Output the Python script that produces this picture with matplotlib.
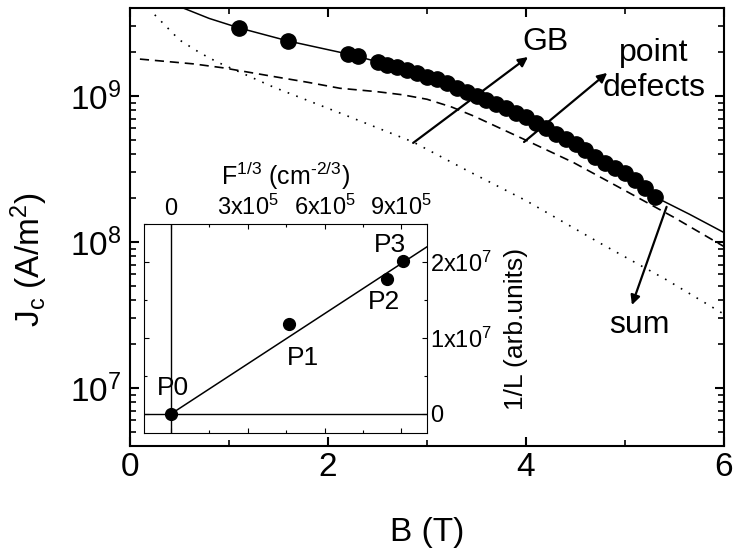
import numpy as np
import matplotlib
matplotlib.use('Agg')
import matplotlib.pyplot as plt
from matplotlib.ticker import LogLocator, MultipleLocator, NullFormatter

plt.rcParams['font.family'] = ['Liberation Sans', 'DejaVu Sans']
plt.rcParams['mathtext.fontset'] = 'custom'
plt.rcParams['mathtext.rm'] = 'Liberation Sans'
plt.rcParams['mathtext.it'] = 'Liberation Sans:italic'
plt.rcParams['mathtext.bf'] = 'Liberation Sans:bold'

# measured Jc(B) points
b_meas = [1.1, 1.6, 2.2, 2.3, 2.5, 2.6, 2.7, 2.8, 2.9, 3.0, 3.1, 3.2, 3.3, 3.4,
          3.5, 3.6, 3.7, 3.8, 3.9, 4.0, 4.1, 4.2, 4.3, 4.4, 4.5, 4.6, 4.7, 4.8,
          4.9, 5.0, 5.1, 5.2, 5.3]
jc_meas = [2.93e9, 2.38e9, 1.94e9, 1.88e9, 1.70e9, 1.64e9, 1.57e9, 1.51e9, 1.43e9,
           1.36e9, 1.30e9, 1.22e9, 1.14e9, 1.06e9, 1.00e9, 9.4e8, 8.8e8, 8.25e8,
           7.7e8, 7.15e8, 6.55e8, 6.0e8, 5.5e8, 5.1e8, 4.7e8, 4.25e8, 3.85e8,
           3.45e8, 3.2e8, 2.95e8, 2.65e8, 2.36e8, 2.04e8]

# sum of the two contributions (solid)
b_sum = [0.5, 0.8, 1.1, 1.6, 2.2, 2.6, 3.0, 3.4, 3.8, 4.2, 4.6, 5.0, 5.3, 5.65, 6.0]
jc_sum = [4.1e9, 3.4e9, 2.93e9, 2.38e9, 1.94e9, 1.65e9, 1.36e9, 1.06e9, 8.25e8,
          6.0e8, 4.25e8, 2.95e8, 2.04e8, 1.55e8, 1.16e8]

# point defects (dashed)
b_pd = [0.1, 0.64, 0.94, 1.45, 1.8, 2.12, 2.5, 2.75, 3.0, 3.25, 3.47, 3.98, 4.48,
        4.99, 5.49, 6.0]
jc_pd = [1.79e9, 1.66e9, 1.56e9, 1.36e9, 1.24e9, 1.13e9, 1.07e9, 1.02e9, 9.5e8,
         8.4e8, 7.3e8, 5.05e8, 3.5e8, 2.27e8, 1.48e8, 9.3e7]

# grain boundaries (dotted)
b_gb = [0.25, 0.5, 0.71, 0.88, 1.45, 2.12, 2.86, 3.4, 4.0, 4.75, 5.42, 6.0]
jc_gb = [3.6e9, 2.42e9, 1.97e9, 1.71e9, 1.15e9, 7.65e8, 4.84e8, 3.1e8, 1.92e8,
         9.8e7, 5.5e7, 3.2e7]

# inset: 1/L vs F^(1/3)
f13 = [0.0, 4.6e5, 8.42e5, 9.08e5]
inv_l = [0.0, 1.18e7, 1.78e7, 2.01e7]
p_names = ['P0', 'P1', 'P2', 'P3']
fit_f = [0.0, 1.0e6]
fit_invl = [0.0, 2.2e7]

fig = plt.figure(figsize=(7.37, 5.58), dpi=100)
ax = fig.add_axes([130 / 737, 1 - 446 / 558, 594 / 737, 438.5 / 558])

ax.plot(b_gb, jc_gb, color='black', lw=1.2, linestyle=(0, (1, 4.5)))
ax.plot(b_pd, jc_pd, color='black', lw=1.2, linestyle=(0, (5.5, 3.5)))
ax.plot(b_sum, jc_sum, color='black', lw=1.1)
ax.plot(b_meas, jc_meas, 'o', color='black', ms=11)

ax.set_yscale('log')
ax.set_xlim(0, 6)
ax.set_ylim(4e6, 4.04e9)
ax.set_xticks([0, 2, 4, 6])
ax.xaxis.set_minor_locator(MultipleLocator(1))
ax.yaxis.set_major_locator(LogLocator(base=10, numticks=10))
ax.yaxis.set_minor_locator(LogLocator(base=10, subs=np.arange(2, 10), numticks=20))
ax.yaxis.set_minor_formatter(NullFormatter())
ax.tick_params(which='both', direction='in', top=True, right=True, labelsize=24)
ax.tick_params(which='major', length=6.5, width=1.5)
ax.tick_params(which='minor', length=4, width=1.2)
ax.tick_params(axis='x', pad=4.5)
ax.tick_params(axis='y', pad=6)
for s in ax.spines.values():
    s.set_linewidth(1.5)

ax.set_xlabel('B (T)', fontsize=24)
ax.set_ylabel(r'J$_\mathrm{c}$ (A/m$^2$)', fontsize=24)
ax.xaxis.set_label_coords(0.5, -0.162)
ax.yaxis.set_label_coords(-0.135, 0.426)

arrow = dict(arrowstyle='-|>', color='black', lw=1.6, mutation_scale=14,
             shrinkA=0, shrinkB=0)
ax.annotate('', xy=(4.02, 1.85e9), xytext=(2.86, 4.77e8), arrowprops=arrow)
ax.annotate('', xy=(4.82, 1.44e9), xytext=(3.98, 4.84e8), arrowprops=arrow)
ax.annotate('', xy=(5.07, 3.7e7), xytext=(5.42, 1.74e8), arrowprops=arrow)
ax.text(4.2, 2.36e9, 'GB', fontsize=23, ha='center', va='center')
ax.text(5.29, 1.5e9, 'point\ndefects', fontsize=23, ha='center', va='center')
ax.text(5.15, 2.7e7, 'sum', fontsize=23, ha='center', va='center')

# inset
axi = fig.add_axes([144 / 737, 1 - 433 / 558, 283 / 737, 209 / 558])
axi.axvline(0, color='black', lw=1)
axi.axhline(0, color='black', lw=1)
axi.plot(fit_f, fit_invl, color='black', lw=1.1)
axi.plot(f13, inv_l, 'o', color='black', ms=8.5)
offsets = [(1.5, 19), (10, -24), (-1.5, -17), (-10, 11.5)]
for x, y, name, off in zip(f13, inv_l, p_names, offsets):
    axi.annotate(name, (x, y), xytext=off, textcoords='offset points',
                 ha='center', va='center', fontsize=19)

axi.set_xlim(-1.05e5, 1.0e6)
axi.set_ylim(-2.5e6, 2.5e7)
axi.set_xticks([0, 3e5, 6e5, 9e5],
               labels=['0', r'3x10$^5$', r'6x10$^5$', r'9x10$^5$'])
axi.set_yticks([0, 1e7, 2e7], labels=['0', r'1x10$^7$', r'2x10$^7$'])
axi.xaxis.set_minor_locator(MultipleLocator(1.5e5))
axi.yaxis.set_minor_locator(MultipleLocator(5e6))
axi.tick_params(which='both', direction='in', top=True, bottom=True, left=True,
                right=True, labeltop=True, labelbottom=False, labelleft=False,
                labelright=True, labelsize=17, width=0.8)
axi.tick_params(which='major', length=3.5)
axi.tick_params(which='minor', length=2.2)
axi.tick_params(axis='x', pad=3)
axi.tick_params(axis='y', pad=2)
for s in axi.spines.values():
    s.set_linewidth(0.8)
axi.xaxis.set_label_position('top')
axi.yaxis.set_label_position('right')
axi.set_xlabel(r'F$^{1/3}$ (cm$^{\text{-}2/3}$)', fontsize=18, labelpad=7)
axi.set_ylabel('1/L (arb.units)', fontsize=19, labelpad=9)

fig.savefig('out.png', dpi=100)
